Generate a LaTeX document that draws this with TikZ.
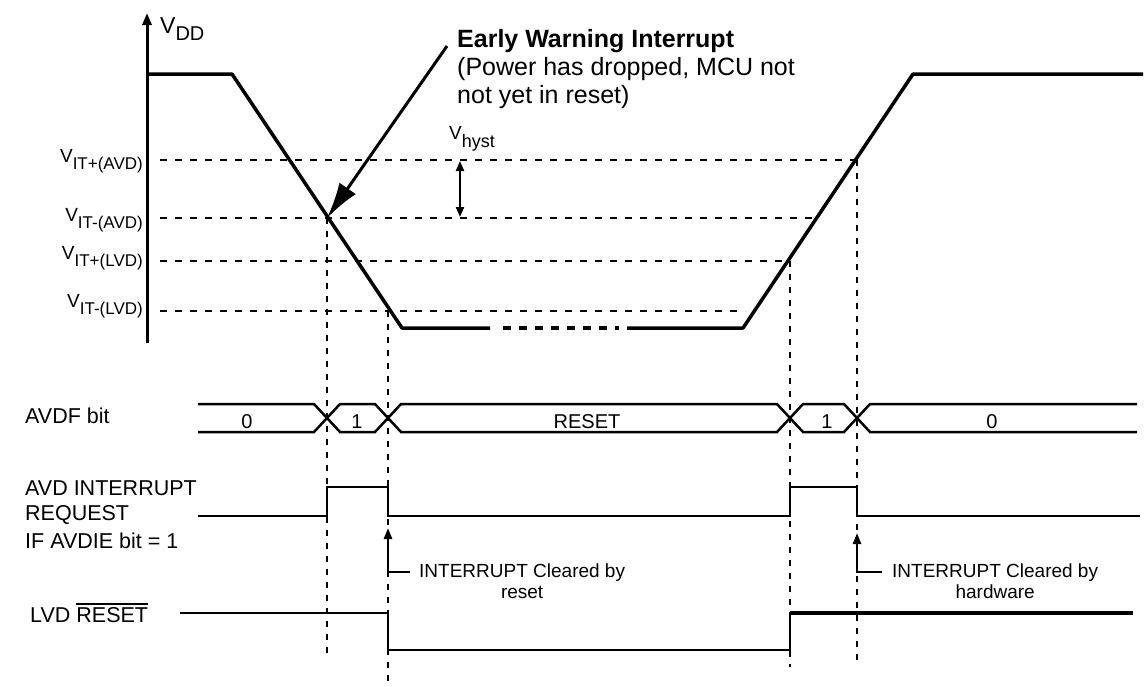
\documentclass[tikz,border=0pt]{standalone}
\usepackage{fontspec}
\setmainfont{Liberation Sans}
\usetikzlibrary{arrows.meta}
\newcommand\myovl[1]{\leavevmode\vbox{\hrule height 2pt\kern 2.5pt\hbox{#1}}}
\begin{document}
\begin{tikzpicture}[x=1pt,y=-1pt,
  fsz/.style={font=\fontsize{#1}{#1}\selectfont},
  vdd/.style={line width=3.5pt, line join=round},
  sig/.style={line width=2.5pt, line join=miter},
  hdash/.style={line width=2.5pt, dash pattern=on 7pt off 8pt},
  vdot/.style={line width=2.5pt, dash pattern=on 6pt off 7pt},
  lbl/.style={anchor=base west, inner sep=0pt, fsz=21.5},
  vlbl/.style={anchor=base east, inner sep=0pt, fsz=19},
  buslbl/.style={anchor=base, inner sep=0pt, fsz=20},
  ann/.style={anchor=base west, inner sep=0pt, fsz=19},
  smalltip/.style={-{Triangle[length=11pt,width=8pt]}}
]
\useasboundingbox (0,0) rectangle (1147,686);

% key points
\coordinate (f1) at (327,218);
\coordinate (f2) at (388,311);
\coordinate (r1) at (790,261);
\coordinate (r2) at (857,160);

% horizontal threshold lines
\draw[hdash] (160,160) -- (r2);
\draw[hdash] (160,218) -- (812,218);
\draw[hdash] (160,261) -- (r1);
\draw[hdash] (160,311) -- (745,311);

% vertical dotted lines
\draw[vdot] (f1) -- (327,658);
\draw[vdot] (f2) -- (388,684);
\draw[vdot] (r1) -- (790,667);
\draw[vdot] (r2) -- (857,667);

% axis
\draw[line width=3pt, -{Triangle[length=12pt,width=9pt]}] (147,343) -- (147,13);
\node[anchor=base west, inner sep=0pt, fsz=23] (vddl) at (160,33) {V\raisebox{-7pt}{\fontsize{20}{20}\selectfont DD}};

% VDD curve
\draw[vdd] (147,74) -- (232,74) -- (402,328) -- (490,328);
\draw[vdd, dash pattern=on 8pt off 8pt] (503,328) -- (619,328);
\draw[vdd] (627,328) -- (743,328) -- (913,74) -- (1143,74);

% threshold labels
\node[vlbl] (l1) at (143,162) {V\raisebox{-7pt}{\fontsize{17}{17}\selectfont IT+(AVD)}};
\node[vlbl] (l2) at (143,221) {V\raisebox{-7pt}{\fontsize{17}{17}\selectfont IT-(AVD)}};
\node[vlbl] (l3) at (143,259) {V\raisebox{-7pt}{\fontsize{17}{17}\selectfont IT+(LVD)}};
\node[vlbl] (l4) at (143,307) {V\raisebox{-7pt}{\fontsize{17}{17}\selectfont IT-(LVD)}};

% hysteresis
\node[anchor=base west, inner sep=0pt, fsz=19] (vh) at (449,139) {V\raisebox{-8pt}{\fontsize{18}{18}\selectfont hyst}};
\coordinate (h1) at (460,161);
\coordinate (h2) at (460,217);
\draw[line width=2pt, {Triangle[length=10pt,width=8pt]}-{Triangle[length=10pt,width=8pt]}] (h1) -- (h2);

% early warning
\node[anchor=base west, inner sep=0pt, font=\bfseries\fontsize{25}{25}\selectfont] (ew1) at (457,47) {Early Warning Interrupt};
\node[anchor=base west, inner sep=0pt, fsz=25] (ew2) at (457,75) {(Power has dropped, MCU not};
\node[anchor=base west, inner sep=0pt, fsz=25] (ew3) at (457,103) {not yet in reset)};
\coordinate (ews) at (447,46);
\draw[line width=3pt, -{Latex[length=36pt,width=20pt]}] (ews) -- (f1);

% left labels
\node[lbl] (avdf) at (25,423) {AVDF bit};
\node[lbl] (irq1) at (25,495) {AVD INTERRUPT};
\node[lbl] (irq2) at (25,520) {REQUEST};
\node[lbl] (irq3) at (25,548) {IF AVDIE bit = 1};
\node[lbl] (lvd) at (30,622) {LVD \myovl{RESET}};

% AVDF bus
\draw[sig] (198,404) -- (314,404) -- (340,432) -- (375,432) -- (401,404) -- (777,404) -- (803,432) -- (844,432) -- (870,404) -- (1137,404);
\draw[sig] (198,432) -- (314,432) -- (340,404) -- (375,404) -- (401,432) -- (777,432) -- (803,404) -- (844,404) -- (870,432) -- (1137,432);
\node[buslbl] (b0) at (247,428) {0};
\node[buslbl] (b1) at (357,428) {1};
\node[buslbl] (b2) at (587,428) {RESET};
\node[buslbl] (b3) at (827,428) {1};
\node[buslbl] (b4) at (992,428) {0};

% AVD interrupt request
\draw[sig] (198,516) -- (327,516) -- (327,487) -- (388,487) -- (388,516) -- (790,516) -- (790,487) -- (857,487) -- (857,516) -- (1140,516);

% cleared arrows
\coordinate (c1) at (410,572);
\coordinate (c2) at (882,572);
\draw[sig, smalltip] (c1) -- (388,572) -- (388,528);
\draw[sig, smalltip] (c2) -- (857,572) -- (857,533);
\node[ann] (t1) at (419,577) {INTERRUPT Cleared by};
\node[anchor=base, inner sep=0pt, fsz=19] (t1b) at (t1.center |- 0,598) {reset};
\node[ann] (t2) at (892,577) {INTERRUPT Cleared by};
\node[anchor=base, inner sep=0pt, fsz=19] (t2b) at (t2.center |- 0,598) {hardware};

% LVD reset
\draw[sig] (180,613) -- (388,613) -- (388,650) -- (790,650) -- (790,613) -- (1133,613);
\draw[line width=3.5pt] (790,613) -- (1133,613);
\end{tikzpicture}
\end{document}
